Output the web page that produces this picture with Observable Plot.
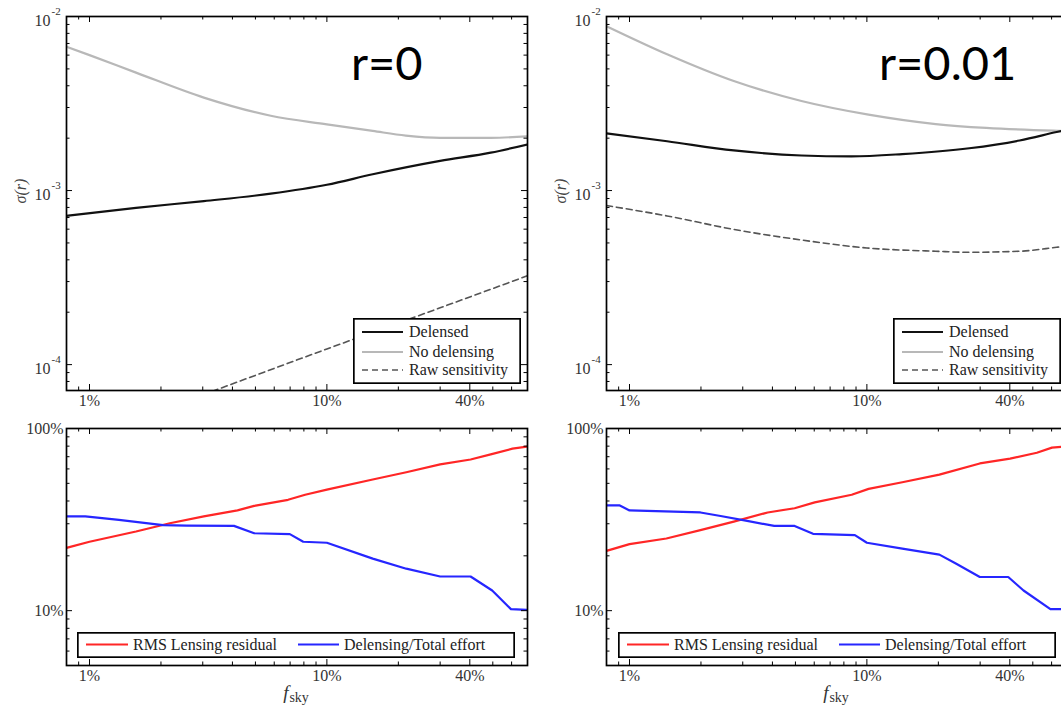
<!DOCTYPE html>
<html><head><meta charset="utf-8">
<script src="https://cdn.jsdelivr.net/npm/d3@7"></script>
<script src="https://cdn.jsdelivr.net/npm/@observablehq/plot@0.6"></script>
<style>
html,body{margin:0;padding:0;background:#fff;overflow:hidden}
#wrap{position:relative;width:1061px;height:706px;overflow:hidden;font-family:"Liberation Serif",serif}
.slot{position:absolute}
.slot svg{max-width:none;background:transparent}
.big{position:absolute;font-family:Lato,sans-serif;font-size:47px;line-height:47px;color:#000;white-space:nowrap}
.fsky{position:absolute;width:80px;text-align:center;font-family:"Liberation Serif",serif;color:#333;white-space:nowrap;line-height:18px}
.fsky i{font-size:19px}
.fsky span{font-size:14px;position:relative;top:3px;margin-left:1px}
</style>
</head><body><div id="wrap"></div>
<script>
// ---------- axis ticks ----------
const fskyTicks = [0.01, 0.1, 0.4];
const fskyTickLabels = ["1%", "10%", "40%"];
const fskyMinor = [0.008, 0.009, 0.02, 0.03, 0.04, 0.05, 0.06, 0.07, 0.08, 0.09, 0.2, 0.3, 0.5, 0.6];
const sigmaTicks = [1e-4, 1e-3, 1e-2];
const sigmaTickExp = ["-4", "-3", "-2"];
const sigmaMinor = [8e-5, 9e-5, 2e-4, 3e-4, 4e-4, 5e-4, 6e-4, 7e-4, 8e-4, 9e-4, 2e-3, 3e-3, 4e-3, 5e-3, 6e-3, 7e-3, 8e-3, 9e-3];
const pctTicks = [0.1, 1];
const pctTickLabels = ["10%", "100%"];
const pctMinor = [0.06, 0.07, 0.08, 0.09, 0.2, 0.3, 0.4, 0.5, 0.6, 0.7, 0.8, 0.9];

// ---------- r = 0 : sigma(r) ----------
const r0Delensed = [[0.008,7.15e-4],[0.0157,7.96e-4],[0.0303,8.7e-4],[0.058,9.6e-4],[0.1,1.08e-3],[0.156,1.24e-3],[0.30,1.48e-3],[0.49,1.65e-3],[0.7,1.84e-3]];
const r0NoDelensing = [[0.008,6.7e-3],[0.01,6.0e-3],[0.0157,4.76e-3],[0.0303,3.42e-3],[0.058,2.69e-3],[0.1,2.40e-3],[0.156,2.20e-3],[0.215,2.07e-3],[0.30,2.01e-3],[0.49,2.01e-3],[0.7,2.05e-3]];
const r0Raw = [[0.03,6.7e-5],[0.1,1.23e-4],[0.3,2.12e-4],[0.7,3.24e-4]];

// ---------- r = 0.01 : sigma(r) ----------
const r001Delensed = [[0.008,2.13e-3],[0.0144,1.92e-3],[0.0275,1.70e-3],[0.053,1.59e-3],[0.086,1.57e-3],[0.141,1.62e-3],[0.27,1.75e-3],[0.44,1.94e-3],[0.63,2.17e-3],[0.7,2.24e-3]];
const r001NoDelensing = [[0.008,8.8e-3],[0.0144,6.07e-3],[0.0275,4.26e-3],[0.053,3.27e-3],[0.1016,2.73e-3],[0.195,2.41e-3],[0.318,2.29e-3],[0.61,2.21e-3],[0.7,2.2e-3]];
const r001Raw = [[0.008,8.2e-4],[0.0144,7.15e-4],[0.0275,5.98e-4],[0.053,5.2e-4],[0.1,4.68e-4],[0.195,4.48e-4],[0.27,4.42e-4],[0.44,4.48e-4],[0.63,4.72e-4],[0.7,4.8e-4]];

// ---------- r = 0 : fractions ----------
const r0Residual = [[0.008,0.221],[0.01,0.239],[0.0157,0.272],[0.0218,0.302],[0.0303,0.329],[0.042,0.355],[0.0494,0.376],[0.0686,0.406],[0.081,0.433],[0.1,0.462],[0.156,0.525],[0.216,0.575],[0.30,0.635],[0.403,0.676],[0.49,0.721],[0.605,0.775],[0.70,0.795]];
const r0Effort = [[0.008,0.329],[0.0096,0.329],[0.0133,0.315],[0.0204,0.295],[0.0257,0.293],[0.0406,0.292],[0.0494,0.266],[0.0698,0.263],[0.0795,0.239],[0.1,0.236],[0.156,0.193],[0.216,0.170],[0.30,0.154],[0.403,0.154],[0.497,0.129],[0.596,0.102],[0.70,0.101]];

// ---------- r = 0.01 : fractions ----------
const r001Residual = [[0.008,0.213],[0.0082,0.215],[0.01,0.232],[0.0143,0.249],[0.0199,0.277],[0.0275,0.308],[0.0382,0.346],[0.0496,0.365],[0.0603,0.393],[0.0863,0.433],[0.1017,0.466],[0.141,0.507],[0.202,0.558],[0.299,0.643],[0.401,0.683],[0.52,0.736],[0.602,0.785],[0.7,0.80]];
const r001Effort = [[0.008,0.378],[0.0091,0.378],[0.01,0.355],[0.0199,0.346],[0.0242,0.331],[0.0313,0.311],[0.0407,0.292],[0.0496,0.292],[0.0593,0.264],[0.089,0.260],[0.1,0.236],[0.141,0.219],[0.202,0.203],[0.238,0.181],[0.299,0.153],[0.394,0.153],[0.457,0.129],[0.593,0.102],[0.7,0.102]];

const topLegendItems = [
  {label: "Delensed", color: "#111", width: 2.2, dash: null},
  {label: "No delensing", color: "#b8b8b8", width: 2.2, dash: null},
  {label: "Raw sensitivity", color: "#555", width: 1.6, dash: "6,4"}
];
const bottomLegendItems = [
  {label: "RMS Lensing residual", color: "#ff2626", width: 2.2},
  {label: "Delensing/Total effort", color: "#2626ff", width: 2.2}
];

const FONT = "Liberation Serif";
const wrap = document.getElementById("wrap");

function place(node, left, top, w, h) {
  const d = document.createElement("div");
  d.className = "slot";
  d.style.left = left + "px"; d.style.top = top + "px";
  if (w) d.style.width = w + "px";
  if (h) d.style.height = h + "px";
  d.appendChild(node);
  wrap.appendChild(d);
}

function panel(o) {
  const fh = o.height - o.mt - o.mb;
  const fw = o.width - o.ml - o.mr;
  const marks = [];
  for (const s of o.series) {
    marks.push(Plot.line(s.data, {x: d => d[0], y: d => d[1], stroke: s.color, strokeWidth: s.width, strokeDasharray: s.dash, clip: true, curve: o.curve}));
  }
  // inward ticks (all four sides)
  marks.push(
    Plot.tickX(fskyTicks, {x: d => d, insetTop: fh - 6, stroke: "#000", strokeWidth: 1}),
    Plot.tickX(fskyTicks, {x: d => d, insetBottom: fh - 6, stroke: "#000", strokeWidth: 1}),
    Plot.tickX(fskyMinor, {x: d => d, insetTop: fh - 3.5, stroke: "#000", strokeWidth: 1}),
    Plot.tickX(fskyMinor, {x: d => d, insetBottom: fh - 3.5, stroke: "#000", strokeWidth: 1}),
    Plot.tickY(o.yTicks, {y: d => d, insetRight: fw - 6, stroke: "#000", strokeWidth: 1}),
    Plot.tickY(o.yTicks, {y: d => d, insetLeft: fw - 6, stroke: "#000", strokeWidth: 1}),
    Plot.tickY(o.yMinor, {y: d => d, insetRight: fw - 3.5, stroke: "#000", strokeWidth: 1}),
    Plot.tickY(o.yMinor, {y: d => d, insetLeft: fw - 3.5, stroke: "#000", strokeWidth: 1}),
    Plot.frame({stroke: "#000", strokeWidth: 1.7}),
    Plot.text(fskyTicks, {x: d => d, text: (d, i) => fskyTickLabels[i], frameAnchor: "bottom", dy: 15, fontSize: 16, fill: "#333", fontFamily: FONT})
  );
  if (o.sigma) {
    marks.push(
      Plot.text(o.yTicks, {y: d => d, text: () => "10", frameAnchor: "left", dx: -16, dy: 4, textAnchor: "end", fontSize: 16, fill: "#333", fontFamily: FONT}),
      Plot.text(o.yTicks, {y: d => d, text: (d, i) => sigmaTickExp[i], frameAnchor: "left", dx: -15, dy: -5, textAnchor: "start", fontSize: 11, fill: "#333", fontFamily: FONT}),
      Plot.text(["σ(r)"], {text: d => d, frameAnchor: "left", dx: -46, rotate: -90, fontSize: 16, fontStyle: "italic", fill: "#444", fontFamily: FONT})
    );
  } else {
    marks.push(
      Plot.text(o.yTicks, {y: d => d, text: (d, i) => pctTickLabels[i], frameAnchor: "left", dx: -3, textAnchor: "end", fontSize: 16, fill: "#333", fontFamily: FONT})
    );
  }
  return Plot.plot({
    width: o.width, height: o.height,
    marginTop: o.mt, marginBottom: o.mb, marginLeft: o.ml, marginRight: o.mr,
    x: {type: "log", domain: [0.008, 0.7], axis: null},
    y: {type: "log", domain: o.yDomain, axis: null},
    style: {background: "transparent", fontFamily: FONT, overflow: "visible"},
    marks
  });
}

function legendSvg(w, h, items, layout) {
  const svg = d3.create("svg").attr("width", w).attr("height", h).style("display", "block");
  svg.append("rect").attr("x", 0.85).attr("y", 0.85).attr("width", w - 1.7).attr("height", h - 1.7)
    .attr("fill", "#fff").attr("stroke", "#000").attr("stroke-width", 1.7);
  items.forEach((it, i) => {
    const p = layout[i];
    svg.append("line").attr("x1", p.x1).attr("x2", p.x2).attr("y1", p.y).attr("y2", p.y)
      .attr("stroke", it.color).attr("stroke-width", it.width).attr("stroke-dasharray", it.dash || null);
    svg.append("text").attr("x", p.tx).attr("y", p.y + 5).attr("font-family", FONT).attr("font-size", 16)
      .attr("fill", "#222").text(it.label);
  });
  return svg.node();
}

const TOP = {width: 540, height: 415, mt: 16, mb: 25, ml: 66, mr: 13, yDomain: [7.1e-5, 1e-2], yTicks: sigmaTicks, yMinor: sigmaMinor, sigma: true, curve: "monotone-x"};
const BOT = {width: 540, height: 275, mt: 13, mb: 25, ml: 66, mr: 13, yDomain: [0.05, 1], yTicks: pctTicks, yMinor: pctMinor, sigma: false, curve: "linear"};

const gray = "#b8b8b8", black = "#111", dashC = "#555", red = "#ff2626", blue = "#2626ff";

place(panel({...TOP, series: [
  {data: r0NoDelensing, color: gray, width: 2.2},
  {data: r0Delensed, color: black, width: 2.2},
  {data: r0Raw, color: dashC, width: 1.6, dash: "6,4"}
]}), 0, 0, 540, 415);
place(panel({...TOP, series: [
  {data: r001NoDelensing, color: gray, width: 2.2},
  {data: r001Delensed, color: black, width: 2.2},
  {data: r001Raw, color: dashC, width: 1.6, dash: "6,4"}
]}), 540, 0, 540, 415);
place(panel({...BOT, series: [
  {data: r0Residual, color: red, width: 2.2},
  {data: r0Effort, color: blue, width: 2.2}
]}), 0, 415, 540, 275);
place(panel({...BOT, series: [
  {data: r001Residual, color: red, width: 2.2},
  {data: r001Effort, color: blue, width: 2.2}
]}), 540, 415, 540, 275);

// legends
const topLayout = [{x1: 9, x2: 50, y: 14, tx: 56}, {x1: 9, x2: 50, y: 34, tx: 56}, {x1: 9, x2: 50, y: 52, tx: 56}];
const botLayout = [{x1: 9, x2: 51, y: 12.5, tx: 56}, {x1: 221, x2: 262, y: 12.5, tx: 267}];
place(legendSvg(168, 66, topLegendItems, topLayout), 353, 318);
place(legendSvg(168, 66, topLegendItems, topLayout), 893, 318);
place(legendSvg(438, 26, bottomLegendItems, botLayout), 77, 632);
place(legendSvg(438, 26, bottomLegendItems, botLayout), 618, 632);

// annotations
function big(text, left) {
  const d = document.createElement("div");
  d.className = "big"; d.textContent = text;
  d.style.left = left + "px"; d.style.top = "39px";
  wrap.appendChild(d);
}
big("r=0", 351);
big("r=0.01", 879);

function fsky(cx) {
  const d = document.createElement("div");
  d.className = "fsky";
  d.innerHTML = "<i>f</i><span>sky</span>";
  d.style.left = (cx - 40) + "px"; d.style.top = "684px";
  wrap.appendChild(d);
}
fsky(296);
fsky(836);
</script>
</body></html>
